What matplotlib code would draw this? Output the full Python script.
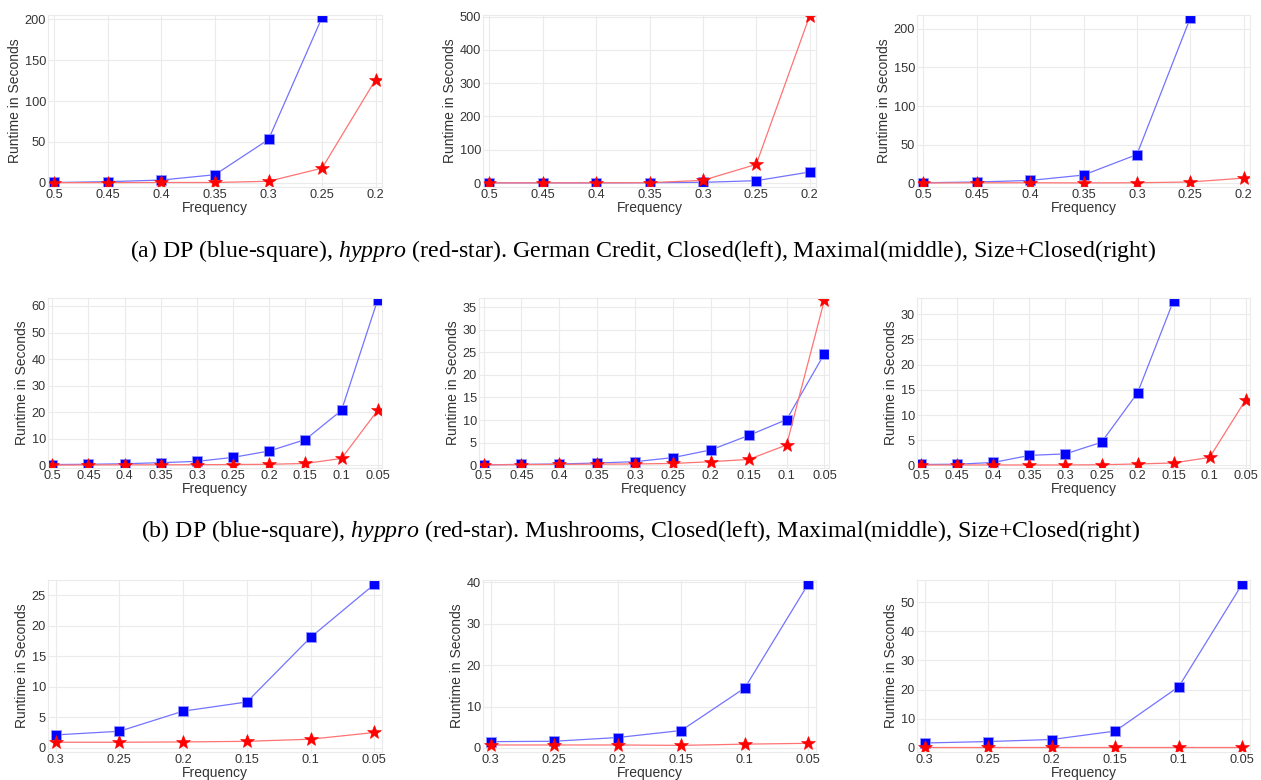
import numpy as np
import matplotlib
matplotlib.use("Agg")
import matplotlib.pyplot as plt

# Frequency thresholds per dataset
freq_german = ["0.5", "0.45", "0.4", "0.35", "0.3", "0.25", "0.2"]
freq_mush = ["0.5", "0.45", "0.4", "0.35", "0.3", "0.25", "0.2", "0.15", "0.1", "0.05"]
freq_third = ["0.3", "0.25", "0.2", "0.15", "0.1", "0.05"]

# German Credit: DP (blue) and hyppro (red)
german_closed_dp = [0.5, 1.5, 3.5, 10, 53, 202]
german_closed_hy = [0.3, 0.4, 0.5, 0.5, 2, 18, 126]
german_max_dp = [0.5, 0.5, 0.5, 1, 2, 7, 33]
german_max_hy = [0.5, 0.5, 0.5, 1, 8, 56, 502]
german_size_dp = [0.5, 1.5, 3.5, 10.5, 37, 214]
german_size_hy = [0.3, 0.4, 0.5, 0.3, 0.5, 1.5, 6.5]

# Mushrooms
mush_closed_dp = [0.3, 0.4, 0.6, 1.0, 1.5, 3.0, 5.4, 9.7, 20.7, 62.3]
mush_closed_hy = [0.1, 0.15, 0.2, 0.2, 0.25, 0.3, 0.4, 0.7, 2.6, 20.7]
mush_max_dp = [0.1, 0.2, 0.3, 0.5, 0.8, 1.7, 3.4, 6.6, 10.1, 24.7]
mush_max_hy = [0.1, 0.15, 0.2, 0.25, 0.3, 0.4, 0.8, 1.3, 4.5, 36.6]
mush_size_dp = [0.2, 0.25, 0.6, 2.0, 2.3, 4.6, 14.4, 32.7]
mush_size_hy = [0.1, 0.1, 0.1, 0.1, 0.1, 0.15, 0.3, 0.5, 1.6, 13.0]

# third dataset
third_closed_dp = [2.1, 2.7, 6.0, 7.5, 18.1, 26.8]
third_closed_hy = [0.9, 0.9, 0.95, 1.05, 1.4, 2.5]
third_max_dp = [1.5, 1.6, 2.5, 4.2, 14.5, 39.7]
third_max_hy = [0.7, 0.7, 0.7, 0.6, 0.9, 1.1]
third_size_dp = [1.6, 2.1, 2.8, 5.7, 21.0, 56.4]
third_size_hy = [0.3, 0.3, 0.3, 0.3, 0.3, 0.3]

panels = [
    (freq_german, german_closed_dp, german_closed_hy, (-5, 205), 50),
    (freq_german, german_max_dp, german_max_hy, (-12, 505), 100),
    (freq_german, german_size_dp, german_size_hy, (-5, 218), 50),
    (freq_mush, mush_closed_dp, mush_closed_hy, (-1, 63), 10),
    (freq_mush, mush_max_dp, mush_max_hy, (-0.6, 37), 5),
    (freq_mush, mush_size_dp, mush_size_hy, (-0.5, 33.2), 5),
    (freq_third, third_closed_dp, third_closed_hy, (-0.7, 27.5), 5),
    (freq_third, third_max_dp, third_max_hy, (-1.0, 40.6), 10),
    (freq_third, third_size_dp, third_size_hy, (-1.5, 57.7), 10),
]

# axes boxes in pixels: left, top, right, bottom
boxes = [
    (48, 15, 382, 187), (483, 15, 816, 187), (917, 15, 1250, 187),
    (48, 298, 382, 468), (479, 298, 829, 468), (917, 298, 1250, 468),
    (48, 580, 382, 752), (483, 580, 816, 752), (917, 580, 1250, 752),
]

W, H = 1261, 780
plt.rcParams['font.family'] = ['Liberation Sans', 'DejaVu Sans']
plt.rcParams['mathtext.fontset'] = 'custom'
plt.rcParams['mathtext.rm'] = 'Liberation Serif'
plt.rcParams['mathtext.it'] = 'Liberation Serif:italic'

fig = plt.figure(figsize=(W / 100, H / 100), dpi=100)

for (labels, dp, hy, ylim, step), (l, t, r, b) in zip(panels, boxes):
    ax = fig.add_axes([l / W, 1 - b / H, (r - l) / W, (b - t) / H])
    x = np.arange(len(labels))
    ax.plot(x[:len(dp)], dp, color=(0.45, 0.45, 1.0), lw=0.9,
            marker='s', ms=6.5, mfc='blue', mec=(0.6, 0.6, 1.0), mew=0.6)
    ax.plot(x[:len(hy)], hy, color=(1.0, 0.45, 0.45), lw=0.9,
            marker='*', ms=10.5, mfc='red', mec='red', mew=0.4)
    ax.set_xlim(-0.12, len(labels) - 1 + 0.12)
    ax.set_ylim(*ylim)
    ax.set_xticks(x)
    ax.set_xticklabels(labels)
    ax.set_yticks(np.arange(0, ylim[1] + 0.01, step))
    ax.grid(True, color='#ebebeb', lw=0.8)
    ax.set_axisbelow(True)
    for s in ax.spines.values():
        s.set_color('#ebebeb')
        s.set_linewidth(0.8)
    ax.tick_params(length=0, pad=1.5, labelsize=9.2, colors='#333333')
    ax.set_xlabel('Frequency', fontsize=10, color='#333333', labelpad=0)
    ax.set_ylabel('Runtime in Seconds', fontsize=10, color='#333333', labelpad=2)

cap_a = r"(a) DP (blue-square), $\it{hyppro}$ (red-star). German Credit, Closed(left), Maximal(middle), Size+Closed(right)"
cap_b = r"(b) DP (blue-square), $\it{hyppro}$ (red-star). Mushrooms, Closed(left), Maximal(middle), Size+Closed(right)"
fig.text(643 / W, 1 - 251 / H, cap_a, ha='center', va='center',
         fontsize=17.2, family='Liberation Serif')
fig.text(640 / W, 1 - 531 / H, cap_b, ha='center', va='center',
         fontsize=17.2, family='Liberation Serif')

fig.savefig('out.png', dpi=100)
